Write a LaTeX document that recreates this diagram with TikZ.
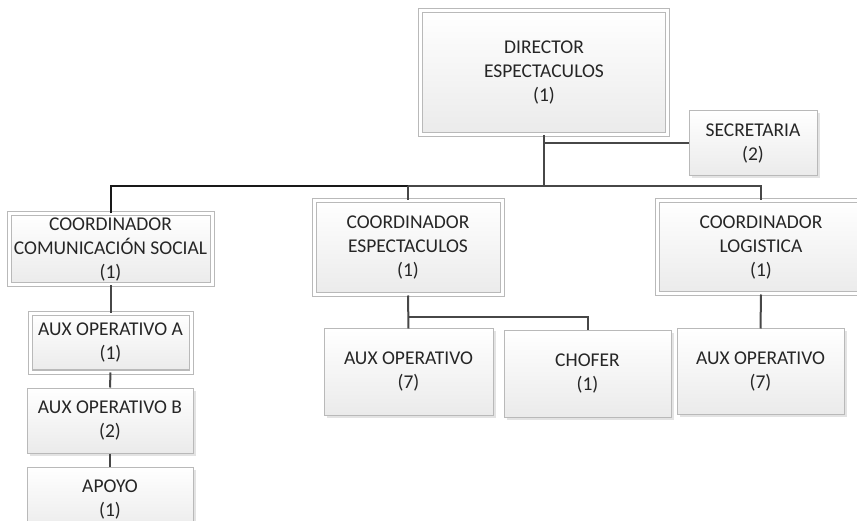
\documentclass[tikz,border=0pt]{standalone}
\usepackage{fontspec}
\setmainfont{Carlito}
\usetikzlibrary{shadows}

\tikzset{
  box/.style={draw=gray!55, line width=1pt, top color=white, bottom color=gray!16,
    text=black!85, align=center, inner sep=0pt,
    font=\fontsize{19.5}{24}\selectfont,
    drop shadow={shadow xshift=2.5pt, shadow yshift=-2.5pt, opacity=0.22}},
  dbox/.style={box, double=white, double distance=3pt},
  link/.style={draw=black!72, line width=2pt},
}

\begin{document}
\begin{tikzpicture}[x=1pt, y=-1pt]
\useasboundingbox (0,0) rectangle (857,521);

% top
\node[dbox, minimum width=247, minimum height=124] (dir) at (544,72.5) {DIRECTOR\\ESPECTACULOS\\(1)};
\node[box, minimum width=128, minimum height=65] (sec) at (753,143.5) {SECRETARIA\\(2)};

% coordinators
\node[dbox, minimum width=203, minimum height=71] (ccs) at (110.5,249.5) {COORDINADOR\\COMUNICACIÓN SOCIAL\\(1)};
\node[dbox, minimum width=188, minimum height=94] (cesp) at (408,248) {COORDINADOR\\ESPECTACULOS\\(1)};
\node[dbox, minimum width=208, minimum height=93] (clog) at (761,247.5) {COORDINADOR\\LOGISTICA\\(1)};

% left column
\node[dbox, minimum width=161, minimum height=58] (auxa) at (110.5,343) {AUX OPERATIVO A\\(1)};
\node[box, minimum width=166, minimum height=65] (auxb) at (110,420.5) {AUX OPERATIVO B\\(2)};
\node[box, minimum width=166, minimum height=65] (apoyo) at (110,499.5) {APOYO\\(1)};

% lower row
\node[box, minimum width=169, minimum height=86] (auxesp) at (408.5,372) {AUX OPERATIVO\\(7)};
\node[box, minimum width=167, minimum height=86] (chofer) at (587.5,374) {CHOFER\\(1)};
\node[box, minimum width=167, minimum height=85] (auxlog) at (760.5,371.5) {AUX OPERATIVO\\(7)};

\coordinate (bus) at (544,186);
\coordinate (fork) at (408,317);

\draw[link] (dir.south) -- (bus);
\draw[link] (dir.south |- sec.west) -- (sec.west);
\draw[link, draw=black!90] (ccs.north) |- (cesp.north |- bus);
\draw[link] (cesp.north |- bus) -- (bus) -| (clog.north);
\draw[link] (cesp.north |- bus) -- (cesp.north);
\draw[link] (cesp.south) -- (auxesp.north);
\draw[link] (fork) -| (chofer.north);
\draw[link] (clog.south) -- (auxlog.north);
\draw[link] (ccs.south) -- (auxa.north);
\draw[link] (auxa.south) -- (auxb.north);
\draw[link] (auxb.south) -- (apoyo.north);
\end{tikzpicture}
\end{document}
